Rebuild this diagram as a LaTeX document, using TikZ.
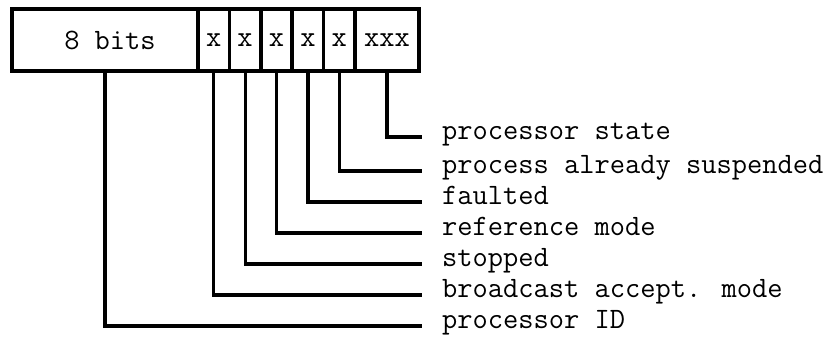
\documentclass[tikz,border=0pt]{standalone}
\usepackage{fontspec}
\begin{document}
\begin{tikzpicture}[x=1pt,y=-1pt,
  font=\ttfamily\fontsize{29.6}{34}\selectfont,
  cell/.style={draw, line width=3.5pt, minimum height=62pt, inner sep=0pt, anchor=center},
  lab/.style={anchor=west, inner sep=0pt, text height=.5em, text depth=.07em},
  conn/.style={line width=3.2pt}]
\useasboundingbox (0,0) rectangle (837,341);
% register cells
\node[cell, minimum width=186pt] (c0) at (105,40) {\hspace{10pt}8 bits};
\node[cell, minimum width=31.4pt] (c1) at (213.7,40) {x};
\node[cell, minimum width=31.4pt] (c2) at (245.1,40) {x};
\node[cell, minimum width=31.4pt] (c3) at (276.5,40) {x};
\node[cell, minimum width=31.4pt] (c4) at (307.9,40) {x};
\node[cell, minimum width=31.4pt] (c5) at (339.3,40) {x};
\node[cell, minimum width=64pt] (c6) at (387,40) {xxx};
% labels
\node[lab] (l6) at (442,137) {processor state};
\node[lab] (l5) at (442,171) {process already suspended};
\node[lab] (l4) at (442,202) {faulted};
\node[lab] (l3) at (442,233) {reference mode};
\node[lab] (l2) at (442,264) {stopped};
\node[lab] (l1) at (442,295) {broadcast accept. mode};
\node[lab] (l0) at (442,326) {processor ID};
% connectors
\draw[conn] (c6.south) |- ([xshift=-20pt]l6.west);
\draw[conn] (c5.south) |- ([xshift=-20pt]l5.west);
\draw[conn] (c4.south) |- ([xshift=-20pt]l4.west);
\draw[conn] (c3.south) |- ([xshift=-20pt]l3.west);
\draw[conn] (c2.south) |- ([xshift=-20pt]l2.west);
\draw[conn] (c1.south) |- ([xshift=-20pt]l1.west);
\draw[conn] (c0.south) |- ([xshift=-20pt]l0.west);
\end{tikzpicture}
\end{document}
